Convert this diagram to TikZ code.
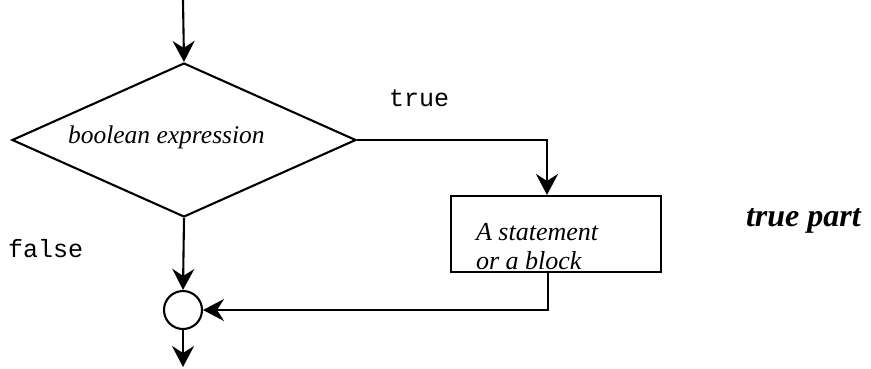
\documentclass[tikz,border=0pt]{standalone}
\usepackage{fontspec}
\setmainfont{Liberation Serif}
\newfontfamily\codefont{Liberation Mono}
\usetikzlibrary{shapes.geometric,arrows.meta}
\begin{document}
\begin{tikzpicture}[x=1pt,y=-1pt,
  line width=2.1pt,
  arr/.style={-{Stealth[length=21pt,width=22pt,inset=7pt]}},
  decision/.style={draw,diamond,inner sep=0pt,minimum width=344pt,minimum height=154pt},
  stmt/.style={draw,rectangle,inner sep=0pt,minimum width=210pt,minimum height=76pt},
  joint/.style={draw,circle,inner sep=0pt,minimum size=38pt},
  lbl/.style={anchor=base west,inner sep=0pt}]
\useasboundingbox (0,0) rectangle (871,368);

% shapes
\node[decision] (dec) at (184,140) {};
\node[stmt] (blk) at (556,234) {};
\node[joint] (join) at (183,310) {};
\coordinate (start) at (183,0);
\coordinate (stop) at (183,367);

% texts
\node[lbl,font=\itshape\fontsize{25.5}{27}\selectfont] (cond) at (67,143) {boolean expression};
\node[lbl,font=\itshape\fontsize{26}{28}\selectfont] (s1) at (475,240) {A statement};
\node[lbl,font=\itshape\fontsize{26}{28}\selectfont] (s2) at (475,269) {or a block};
\node[lbl,font=\codefont\fontsize{25}{27}\selectfont] (t) at (388,106) {true};
\node[lbl,font=\codefont\fontsize{25}{27}\selectfont] (f) at (7,257) {false};
\node[lbl,font=\bfseries\itshape\fontsize{32}{34}\selectfont] (tp) at (745,226) {true part};

% connectors
\draw[arr] (start) -- (dec.north);
\draw[arr] (dec.east) -| ([xshift=-9pt]blk.north);
\draw[arr] (dec.south) -- (join.north);
\draw[arr] ([xshift=-8pt]blk.south) |- (join.east);
\draw[arr] (join.south) -- (stop);
\end{tikzpicture}
\end{document}
